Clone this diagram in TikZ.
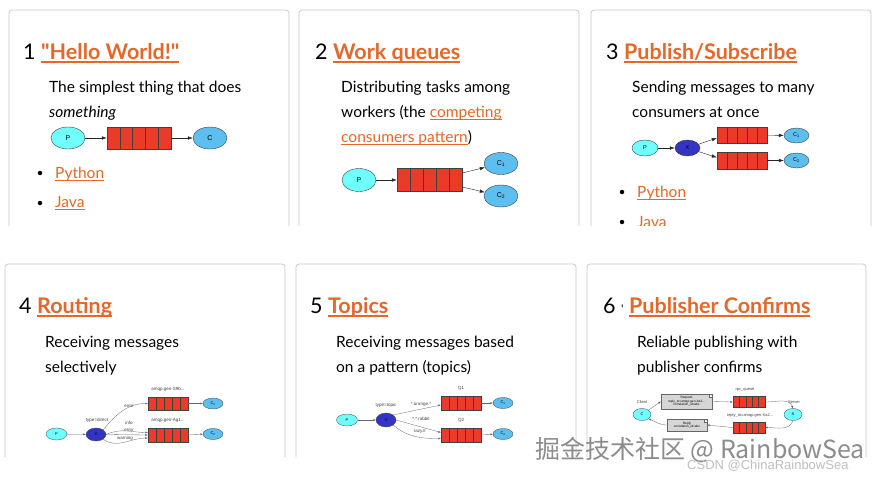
\documentclass[tikz,border=0pt]{standalone}
\usepackage{fontspec}
\setmainfont{Lato}[Ligatures=TeXOff]
\newfontfamily\diagfont{Liberation Sans}
\newfontfamily\cjkfont{Noto Sans CJK SC}
\usetikzlibrary{shapes.geometric, arrows.meta, positioning, calc}

\definecolor{linkorange}{HTML}{E5682A}
\definecolor{panelgray}{HTML}{C8C8C8}
\definecolor{queuered}{HTML}{EA3A2A}
\definecolor{prodcyan}{HTML}{70FFFF}
\definecolor{conblue}{HTML}{5CBFF0}
\definecolor{exchblue}{HTML}{3434C4}
\definecolor{msggray}{HTML}{D6D6D6}

\newsavebox{\lnkbox}
\newcommand{\lnk}[1]{{\color{linkorange}\sbox{\lnkbox}{#1}\rlap{\rule[-2.8pt]{\wd\lnkbox}{0.9pt}}\usebox{\lnkbox}}}
\newcommand{\ttl}[1]{{\bfseries\color{linkorange}\sbox{\lnkbox}{#1}\rlap{\rule[-4.2pt]{\wd\lnkbox}{1.8pt}}\usebox{\lnkbox}}}

\begin{document}
\begin{tikzpicture}[x=1pt, y=-1pt,
    panel/.style={draw=panelgray, line width=0.8pt, rounded corners=3pt},
    head/.style={anchor=base west, inner sep=0, font=\fontsize{21.5}{24}\selectfont},
    desc/.style={anchor=base west, inner sep=0, font=\fontsize{15.5}{18}\selectfont},
    dot/.style={circle, fill=black, inner sep=0, minimum size=4.5},
    prod/.style={ellipse, draw=black!75, fill=prodcyan, inner sep=0, font=\diagfont\fontsize{7}{8}\selectfont},
    cons/.style={prod, fill=conblue},
    exch/.style={prod, fill=exchblue},
    queue/.style={draw=black!75, fill=queuered, inner sep=0,
      path picture={\foreach \k in {1,...,4}
        \draw[black!75] ($(path picture bounding box.south west)!\k/5!(path picture bounding box.south east)$)
          -- ($(path picture bounding box.north west)!\k/5!(path picture bounding box.north east)$);}},
    arr/.style={draw=black!85, -{Latex[length=5pt, width=3.5pt]}},
    sarr/.style={draw=black!60, line width=0.3pt, -{Latex[length=2.5pt, width=2pt]}},
    small/.style={prod, line width=0.3pt, font=\diagfont\fontsize{4}{5}\selectfont},
    tiny/.style={inner sep=0, font=\diagfont\fontsize{4.5}{5}\selectfont, text=black!75},
    msg/.style={draw=black!60, fill=msggray, line width=0.3pt, inner sep=0.5, align=center,
      font=\diagfont\fontsize{3.2}{3.6}\selectfont}
]
\fill[white] (0,0) rectangle (884,479);
\useasboundingbox (0,0) rectangle (884,479);

\begin{scope}
\clip (0,0) rectangle (884,225);
\draw[panel] (9,226) -- (9,10) -- (289,10) -- (289,226);
\draw[panel] (299,226) -- (299,10) -- (579,10) -- (579,226);
\draw[panel] (591,226) -- (591,10) -- (871,10) -- (871,226);

% 1 hello world
\node[head] (t1) at (23,59) {1 \ttl{"Hello World!"}};
\node[desc] (d1a) at (49,92.5) {The simplest thing that does};
\node[desc] (d1b) at (49,117.5) {\itshape something};
\node[prod, minimum width=34, minimum height=22] (hp) at (68,138) {P};
\node[queue, minimum width=64, minimum height=22] (hq) at (139,138) {};
\node[cons, minimum width=34, minimum height=22] (hc) at (210,138) {C};
\draw[arr] (hp) -- (hq);
\draw[arr] (hq) -- (hc);
\node[dot] (b1a) at (40,173) {};
\node[desc] (l1a) at (55,178) {\lnk{Python}};
\node[dot] (b1b) at (40,203) {};
\node[desc] (l1b) at (55,207.5) {\lnk{Java}};

% 2 work queues
\node[head] (t2) at (315,59) {2 \ttl{Work queues}};
\node[desc] (d2a) at (341,92.5) {Distributing tasks among};
\node[desc] (d2b) at (341,117.5) {workers (the \lnk{competing}};
\node[desc] (d2c) at (341,142.5) {\lnk{consumers pattern})};
\node[prod, minimum width=34, minimum height=23] (wp) at (359,180) {P};
\node[queue, minimum width=65, minimum height=23] (wq) at (429.5,180) {};
\node[cons, minimum width=34, minimum height=22] (wc1) at (501,163.5) {C\textsubscript{1}};
\node[cons, minimum width=34, minimum height=22] (wc2) at (501,196) {C\textsubscript{2}};
\draw[arr] (wp) -- (wq);
\draw[arr] ([yshift=7pt]wq.east) -- (wc1);
\draw[arr] ([yshift=-7pt]wq.east) -- (wc2);

% 3 publish/subscribe
\node[head] (t3) at (606,59) {3 \ttl{Publish/Subscribe}};
\node[desc] (d3a) at (632,92.5) {Sending messages to many};
\node[desc] (d3b) at (632,117.5) {consumers at once};
\node[prod, minimum width=26, minimum height=16, font=\diagfont\fontsize{5.5}{6}\selectfont] (pp) at (645,148) {P};
\node[exch, minimum width=25, minimum height=16, font=\diagfont\fontsize{5.5}{6}\selectfont] (px) at (687.5,148) {X};
\node[queue, minimum width=50, minimum height=16] (pq1) at (742,135) {};
\node[queue, minimum width=50, minimum height=17] (pq2) at (742,160.5) {};
\node[cons, minimum width=25, minimum height=15, font=\diagfont\fontsize{5.5}{6}\selectfont] (pc1) at (796.5,135.5) {C\textsubscript{1}};
\node[cons, minimum width=25, minimum height=15, font=\diagfont\fontsize{5.5}{6}\selectfont] (pc2) at (796.5,160.5) {C\textsubscript{2}};
\draw[arr] (pp) -- (px);
\draw[arr] (px) -- ([yshift=-3pt]pq1.west);
\draw[arr] (px) -- ([yshift=3pt]pq2.west);
\draw[arr] (pq1) -- (pc1);
\draw[arr] (pq2) -- (pc2);
\node[dot] (b3a) at (622,192) {};
\node[desc] (l3a) at (637,197) {\lnk{Python}};
\node[dot] (b3b) at (622,222) {};
\node[desc] (l3b) at (637,227) {\lnk{Java}};
\end{scope}

\draw[panel] (5,457) -- (5,264) -- (285,264) -- (285,457);
\draw[panel] (296,457) -- (296,264) -- (576,264) -- (576,457);
\draw[panel] (587,457) -- (587,264) -- (866,264) -- (866,457);

% 4 routing
\node[head] (t4) at (19,313) {4 \ttl{Routing}};
\node[desc] (d4a) at (45,347.5) {Receiving messages};
\node[desc] (d4b) at (45,372.5) {selectively};
\node[small, minimum width=21, minimum height=12] (rp) at (56.5,434) {P};
\node[small, fill=exchblue, minimum width=20, minimum height=13] (rx) at (96,434.5) {X};
\node[queue, line width=0.3pt, minimum width=40, minimum height=13] (rq1) at (168,403.5) {};
\node[queue, line width=0.3pt, minimum width=40, minimum height=14] (rq2) at (168,435) {};
\node[small, fill=conblue, minimum width=20, minimum height=11] (rc1) at (213,403.5) {C\textsubscript{1}};
\node[small, fill=conblue, minimum width=20, minimum height=11] (rc2) at (213,434) {C\textsubscript{2}};
\node[tiny] (rtype) at (97,420) {type=direct};
\node[tiny] (rn1) at (168,389) {amqp.gen-S9b...};
\node[tiny] (rn2) at (168,420) {amqp.gen-Ag1...};
\draw[sarr] (rp) -- (rx);
\draw[sarr] (rx.north east) to[out=50, in=180] (rq1.west);
\draw[sarr] (rx.east) to[out=25, in=180] ([yshift=2.5pt]rq2.west);
\draw[sarr] (rx.east) -- (rq2.west);
\draw[sarr] (rx.south east) to[out=-35, in=180] ([yshift=-3pt]rq2.west);
\draw[sarr] (rq1) -- (rc1);
\draw[sarr] (rq2) -- (rc2);
\node[tiny] (rl1) at (129,406) {error};
\node[tiny] (rl2) at (129,423) {info};
\node[tiny] (rl3) at (129,430.5) {error};
\node[tiny] (rl4) at (125,438) {warning};

% 5 topics
\node[head] (t5) at (310,313) {5 \ttl{Topics}};
\node[desc] (d5a) at (336,347.5) {Receiving messages based};
\node[desc] (d5b) at (336,372.5) {on a pattern (topics)};
\node[small, minimum width=21, minimum height=12] (tp) at (347,420) {P};
\node[small, fill=exchblue, minimum width=20, minimum height=14] (tx) at (386,420) {X};
\node[queue, line width=0.3pt, minimum width=40, minimum height=14] (tq1) at (461,403) {};
\node[queue, line width=0.3pt, minimum width=40, minimum height=14] (tq2) at (461,435) {};
\node[small, fill=conblue, minimum width=20, minimum height=11] (tc1) at (503,403) {C\textsubscript{1}};
\node[small, fill=conblue, minimum width=20, minimum height=11] (tc2) at (503,434) {C\textsubscript{2}};
\node[tiny] (ttype) at (386,405) {type=topic};
\node[tiny] (tn1) at (461,388) {Q1};
\node[tiny] (tn2) at (461,420) {Q2};
\draw[sarr] (tp) -- (tx);
\draw[sarr] (tx.north east) -- ([yshift=-2pt]tq1.west);
\draw[sarr] (tx.east) -- ([yshift=2.5pt]tq2.west);
\draw[sarr] (tx.south east) to[out=-40, in=180] ([yshift=-3.5pt]tq2.west);
\draw[sarr] (tq1) -- (tc1);
\draw[sarr] (tq2) -- (tc2);
\node[tiny] (tl1) at (421,404) {*.orange.*};
\node[tiny] (tl2) at (421,419) {*.*.rabbit};
\node[tiny] (tl3) at (420,431) {lazy.\#};

% 6 publisher confirms
\node[head] (t6) at (603,313) {6 {\fontsize{12}{12}\selectfont'} \ttl{Publisher Confirms}};
\node[desc] (d6a) at (637,347.5) {Reliable publishing with};
\node[desc] (d6b) at (637,372.5) {publisher confirms};
\node[small, minimum width=18, minimum height=12] (cl) at (642,414.5) {C};
\node[tiny, font=\diagfont\fontsize{4}{5}\selectfont] (cln) at (642,402) {Client};
\node[msg, minimum width=51, minimum height=15] (req) at (686.5,401.5)
  {Request\\reply\_to=amqp.gen-Xa2...\\correlation\_id=abc};
\node[msg, minimum width=40, minimum height=12] (rep) at (687,425)
  {Reply\\correlation\_id=abc};
\draw[black!60, line width=0.3pt, fill=white] ([xshift=-3pt]req.north east) -- ([xshift=-3pt, yshift=-3pt]req.north east) -- ([yshift=-3pt]req.north east);
\draw[black!60, line width=0.3pt, fill=white] ([xshift=-3pt]rep.north east) -- ([xshift=-3pt, yshift=-3pt]rep.north east) -- ([yshift=-3pt]rep.north east);
\node[queue, line width=0.3pt, minimum width=32, minimum height=11] (cq1) at (749,402) {};
\node[queue, line width=0.3pt, minimum width=32, minimum height=11] (cq2) at (749,427.5) {};
\node[tiny, font=\diagfont\fontsize{4}{5}\selectfont] (cqn1) at (745,390) {rpc\_queue};
\node[tiny, font=\diagfont\fontsize{4}{5}\selectfont] (cqn2) at (750,415) {reply\_to=amqp.gen-Xa2...};
\node[small, minimum width=18, minimum height=12] (sv) at (793,414.5) {S};
\node[tiny, font=\diagfont\fontsize{4}{5}\selectfont] (svn) at (794,402) {Server};
\draw[sarr] (cl.north east) -- (req.west);
\draw[sarr] (req.east) -- (cq1.west);
\draw[sarr] (cq1.east) to[out=0, in=110] (sv.north);
\draw[sarr] (sv.south) to[out=-110, in=0] (cq2.east);
\draw[sarr] (cq2.west) -- (rep.east);
\draw[sarr] (rep.west) to[out=180, in=-20] (cl.south east);

% watermark
\node[anchor=base west, inner sep=0, text=black!45, font=\cjkfont\fontsize{25}{26}\selectfont] (wm) at (535,458) {掘金技术社区 @ RainbowSea};
\node[anchor=base west, inner sep=0, text=black!25, font=\diagfont\fontsize{13}{14}\selectfont] (csdn) at (687,469) {CSDN @ChinaRainbowSea};
\end{tikzpicture}
\end{document}
